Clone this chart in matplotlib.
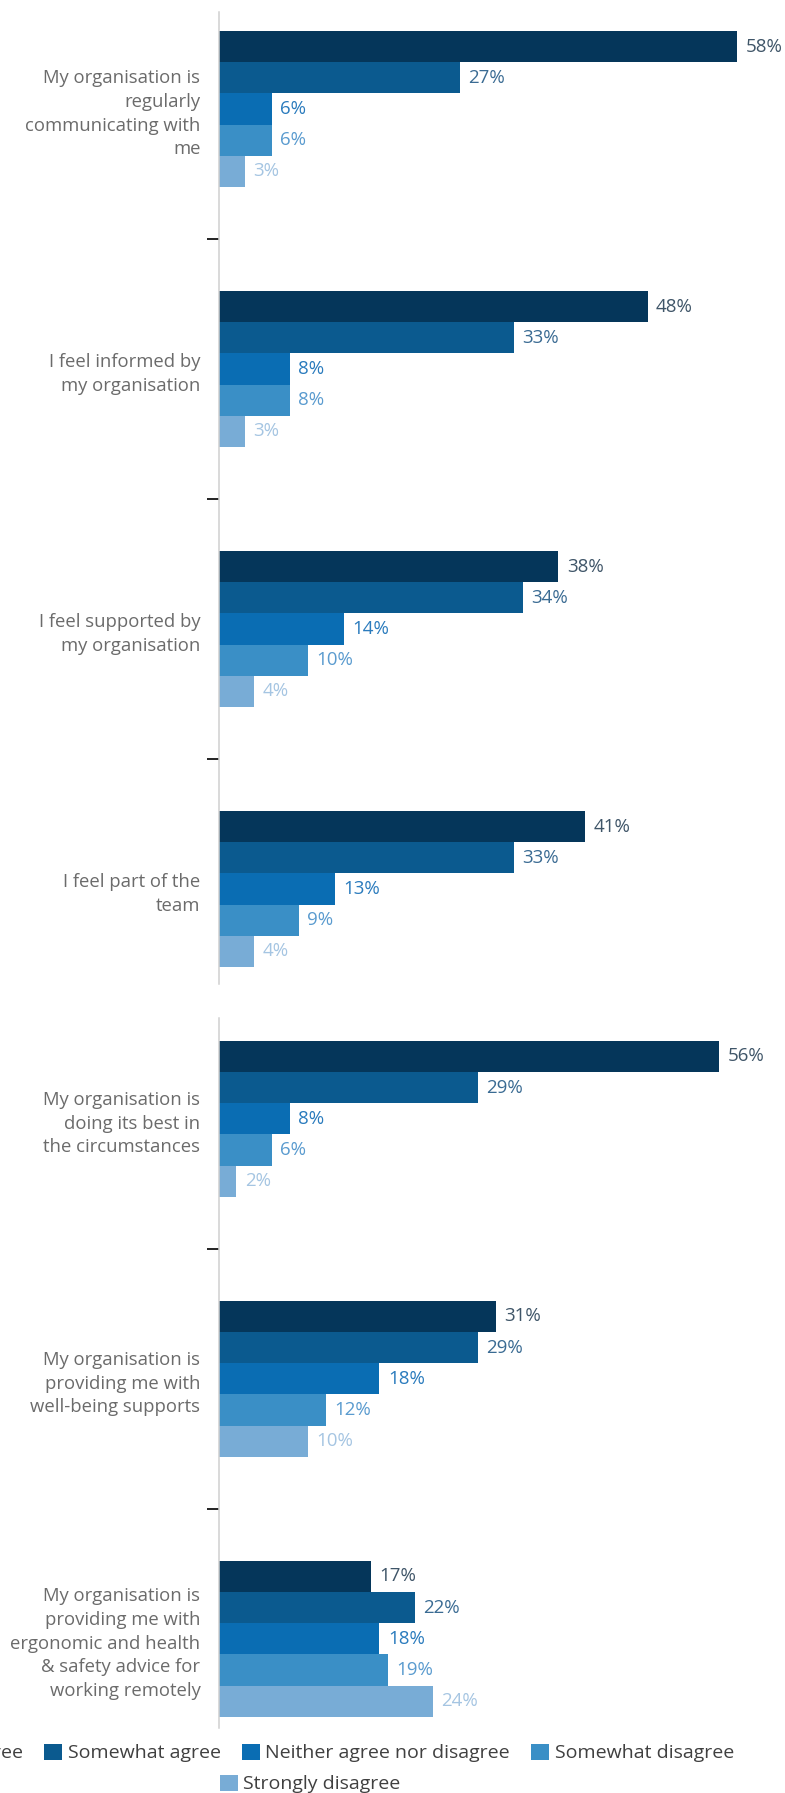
import matplotlib
matplotlib.use("Agg")
import matplotlib.pyplot as plt
import numpy as np

plt.rcParams['font.family'] = ['Open Sans', 'DejaVu Sans']

# ---------------- data ----------------
categories_top = [
    "My organisation is\nregularly\ncommunicating with\nme",
    "I feel informed by\nmy organisation",
    "I feel supported by\nmy organisation",
    "I feel part of the\nteam",
]
categories_bottom = [
    "My organisation is\ndoing its best in\nthe circumstances",
    "My organisation is\nproviding me with\nwell-being supports",
    "My organisation is\nproviding me with\nergonomic and health\n& safety advice for\nworking remotely",
]
series_names = ["Strongly agree", "Somewhat agree", "Neither agree nor disagree",
                "Somewhat disagree", "Strongly disagree"]
strongly_agree    = [58, 48, 38, 41, 56, 31, 17]
somewhat_agree    = [27, 33, 34, 33, 29, 29, 22]
neither           = [6, 8, 14, 13, 8, 18, 18]
somewhat_disagree = [6, 8, 10, 9, 6, 12, 19]
strongly_disagree = [3, 3, 4, 4, 2, 10, 24]

series_values = [strongly_agree, somewhat_agree, neither, somewhat_disagree, strongly_disagree]
bar_colors = ["#05365a", "#0b5a8f", "#0a6db3", "#3a8fc6", "#78acd6"]
label_colors = ["#3f5568", "#3a6b93", "#2a7bbd", "#5a9bcf", "#a5c5e2"]

W, H = 785, 1793
fig = plt.figure(figsize=(W / 100, H / 100), dpi=100)

def px_axes(x0, y0, x1, y1):
    return fig.add_axes([x0 / W, 1 - y1 / H, (x1 - x0) / W, (y1 - y0) / H])

ax_top = px_axes(218.5, 12, 773, 984)
ax_bot = px_axes(218.5, 1018, 773, 1728)

bar_h = 0.12

def draw(ax, cats, sl, ylim):
    n = len(cats)
    y = np.arange(n)
    handles = []
    for k, (name, vals) in enumerate(zip(series_names, series_values)):
        v = vals[sl]
        bars = ax.barh(y + (k - 2) * bar_h, v, height=bar_h, color=bar_colors[k],
                       label=name, edgecolor="none")
        handles.append(bars)
        for b, val in zip(bars, v):
            ax.annotate(f"{val}%", (b.get_width(), b.get_y() + b.get_height() / 2),
                        xytext=(6, 0), textcoords="offset points",
                        ha="left", va="center", fontsize=13.5,
                        color=label_colors[k])
    ax.set_xlim(0, 62)
    ax.set_ylim(*ylim)
    ax.set_yticks(np.arange(n - 1) + 0.5)
    ax.set_yticklabels([])
    ax.set_yticks(y, minor=True)
    ax.set_yticklabels(cats, minor=True, fontsize=13.3, color="#6b6b6b",
                       linespacing=1.4)
    ax.tick_params(axis="y", which="major", length=8.5, width=1.4, color="#222222",
                   direction="out")
    ax.tick_params(axis="y", which="minor", length=0, pad=13)
    ax.set_xticks([])
    for s in ["top", "right", "bottom"]:
        ax.spines[s].set_visible(False)
    ax.spines["left"].set_color("#d0d0d0")
    ax.spines["left"].set_linewidth(1.1)
    return handles

handles = draw(ax_top, categories_top, slice(0, 4), (3.365, -0.373))
draw(ax_bot, categories_bottom, slice(4, 7), (2.343, -0.388))

leg_kw = dict(frameon=False, fontsize=14, handlelength=0.9, handleheight=0.9,
              handletextpad=0.3, columnspacing=1.1, borderpad=0, borderaxespad=0,
              labelcolor="#404040")
fig.legend(handles[:4], series_names[:4], loc="center right", ncol=4,
           bbox_to_anchor=(734 / W, 40 / H), **leg_kw)
fig.legend(handles[4:], series_names[4:], loc="center left", ncol=1,
           bbox_to_anchor=(220 / W, 9 / H), **leg_kw)

fig.savefig("out.png", dpi=100)
